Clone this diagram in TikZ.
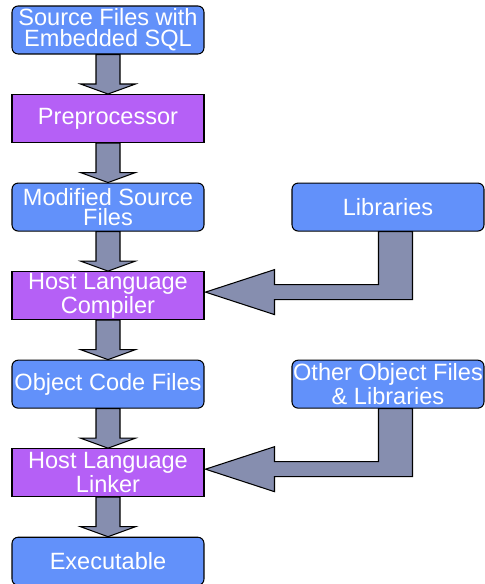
\documentclass[tikz,border=0pt]{standalone}
\usepackage{fontspec}
\setmainfont{Liberation Sans}
\usetikzlibrary{positioning,calc}

\definecolor{fileblue}{RGB}{98,145,250}
\definecolor{toolpurple}{RGB}{181,96,246}
\definecolor{flowgray}{RGB}{134,142,175}

\newcommand{\stepdown}[2]{%
  \draw[bigarrow] ($(#1.south)+(-12,0)$) -- ($(#2.north)+(-12,-10)$) -- ++(-15.5,0)
    -- (#2.north) -- ($(#2.north)+(27.5,-10)$) -- ++(-15.5,0)
    -- ($(#1.south)+(12,0)$) -- cycle;}
\newcommand{\feedin}[2]{%
  \coordinate (tip) at ($(#2.east)+(1,-3.5)$);
  \coordinate (sl) at ($(#1.south)+(-9.5,0)$);
  \coordinate (sr) at ($(#1.south)+(24.5,0)$);
  \draw[bigarrow] (tip) -- ++(69,-22.5) -- ++(0,15) -| (sl) -- (sr)
    |- ($(tip)+(69,7.5)$) -- ++(0,15) -- cycle;}

\begin{document}
\begin{tikzpicture}[
  x=0.02cm, y=-0.02cm,
  file/.style={rectangle, draw, line width=0.6pt, rounded corners=3.5pt, fill=fileblue,
    text=white, minimum width=3.84cm, minimum height=0.96cm, inner sep=0pt,
    align=center, font=\fontsize{13.4}{11.9}\selectfont},
  tool/.style={file, rounded corners=0pt, fill=toolpurple},
  bigarrow/.style={draw, line width=0.6pt, fill=flowgray, line join=miter},
  node distance=0.79cm
]
  \useasboundingbox (0,0) rectangle (484,584);
  \node[file] (src) at (108,30) {Source Files with\\Embedded SQL};
  \node[tool, below=of src] (pre) {Preprocessor};
  \node[file, below=of pre] (mod) {Modified Source\\Files};
  \node[tool, below=of mod] (comp) {Host Language\\Compiler};
  \node[file, below=of comp] (obj) {Object Code Files};
  \node[tool, below=of obj] (link) {Host Language\\Linker};
  \node[file, below=of link] (exe) {Executable};
  \node[file, right=1.74cm of mod] (lib) {Libraries};
  \node[file, right=1.74cm of obj] (oth) {Other Object Files\\\& Libraries};

  \stepdown{src}{pre}
  \stepdown{pre}{mod}
  \stepdown{mod}{comp}
  \stepdown{comp}{obj}
  \stepdown{obj}{link}
  \stepdown{link}{exe}
  \feedin{lib}{comp}
  \feedin{oth}{link}
\end{tikzpicture}
\end{document}
